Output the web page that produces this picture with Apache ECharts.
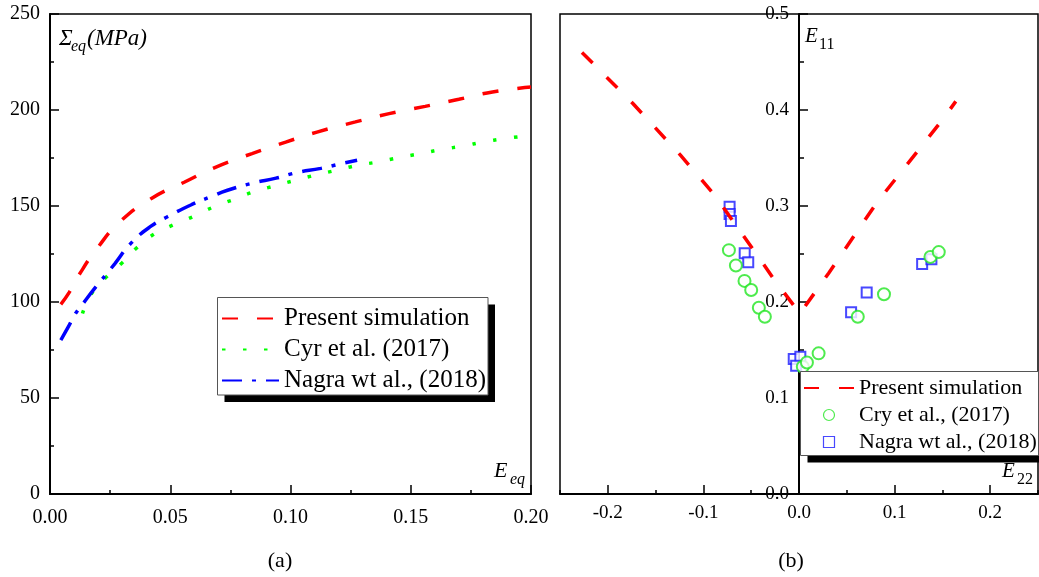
<!DOCTYPE html>
<html><head><meta charset="utf-8">
<script src="https://cdn.jsdelivr.net/npm/echarts@6/dist/echarts.min.js"></script>
<style>html,body{margin:0;padding:0;background:#fff}#c{width:1039px;height:577px}</style>
</head><body><div id="c"></div>
<script>
// ---------- Panel (a): equivalent stress vs equivalent strain ----------
const aSimX = [0.0045, 0.008, 0.012, 0.020, 0.029, 0.042, 0.056, 0.069, 0.084, 0.098, 0.111, 0.127, 0.141, 0.156, 0.170, 0.184, 0.200];
const aSimY = [98.8, 105, 114, 128.6, 141.7, 153.8, 162.5, 170.3, 177.3, 183.3, 188.5, 193.8, 198.1, 201.9, 205.6, 209.4, 212];
const aCyrX = [0.0135, 0.0177, 0.0234, 0.0299, 0.0364, 0.0436, 0.0515, 0.0601, 0.068, 0.0766, 0.0845, 0.0932, 0.102, 0.110, 0.119, 0.128, 0.136, 0.145, 0.154, 0.163, 0.172, 0.180, 0.189, 0.198];
const aCyrY = [94, 105.2, 113, 120.3, 128.6, 135.6, 140.3, 144.8, 149.5, 153.5, 157.3, 160.4, 163.4, 166, 168.6, 171.2, 172.9, 175.2, 177.3, 179.5, 181.3, 183.3, 185.1, 186.5];
const aNagraX = [0.0045, 0.0076, 0.0104, 0.014, 0.018, 0.027, 0.0335, 0.042, 0.049, 0.059, 0.0666, 0.0738, 0.0845, 0.094, 0.1025, 0.1126, 0.121, 0.1277];
const aNagraY = [80.2, 87, 93.6, 99.6, 106.2, 120, 130.4, 139.5, 144.5, 150.8, 154.7, 158.2, 162, 164.5, 167.4, 169.6, 172, 173.8];

// ---------- Panel (b): E11 vs E22 ----------
const bSimX = [-0.227, -0.174, -0.124, -0.088, -0.046, -0.025, 0.001, 0.031, 0.081, 0.151, 0.164];
const bSimY = [0.460, 0.407, 0.353, 0.311, 0.252, 0.222, 0.188, 0.230, 0.303, 0.391, 0.409];
const bCryX = [-0.0733, -0.066, -0.057, -0.050, -0.042, -0.0357, 0.004, 0.0083, 0.0205, 0.0615, 0.0889, 0.1375, 0.1462];
const bCryY = [0.254, 0.238, 0.222, 0.2125, 0.194, 0.1847, 0.1326, 0.137, 0.1465, 0.1847, 0.208, 0.247, 0.252];
const bNagraX = [-0.0726, -0.0726, -0.0712, -0.0568, -0.0531, -0.0055, 0.0014, -0.003, 0.0545, 0.0708, 0.1288, 0.1385];
const bNagraY = [0.2993, 0.2917, 0.2844, 0.2507, 0.2413, 0.1406, 0.143, 0.1337, 0.1893, 0.210, 0.2396, 0.2445];

// tick labels
const bXTicks = [-0.2, -0.1, 0.0, 0.1, 0.2];

// legend texts
const legendText = {
  aSim: 'Present simulation', aCyr: 'Cyr et al. (2017)', aNagra: 'Nagra wt al., (2018)',
  bSim: 'Present simulation', bCry: 'Cry et al., (2017)', bNagra: 'Nagra wt al., (2018)'
};

const zip = (xs, ys) => xs.map((x, i) => [x, ys[i]]);
const FONT = 'Liberation Serif';
const RED = '#ff0000', GREEN = '#00ff00', BLUE = '#0000ff', CIRC = '#22e622', SQ = '#1a1aff';

const tickLine = {color: '#000', width: 1.5};
function baseAxis(extra) {
  return Object.assign({
    type: 'value',
    axisLine: {show: true, onZero: false, lineStyle: {color: '#000', width: 2}},
    axisTick: {show: true, inside: true, length: 9, lineStyle: tickLine},
    minorTick: {show: true, splitNumber: 2, length: 4, lineStyle: tickLine},
    splitLine: {show: false},
    minorSplitLine: {show: false},
    axisLabel: {color: '#000', fontFamily: FONT, fontSize: 20}
  }, extra);
}

const chart = echarts.init(document.getElementById('c'), null, {renderer: 'canvas'});

const gridBase = {show: true, borderColor: '#000', borderWidth: 1.5, backgroundColor: 'transparent', containLabel: false};
const BW = 478; // width of grid (b)

function txt(text, x, y, size, italic, align) {
  return {
    type: 'text', x: x, y: y, z: 100,
    style: {
      text: text, fill: '#000', fontFamily: FONT, fontSize: size,
      fontStyle: italic ? 'italic' : 'normal',
      align: align || 'left', verticalAlign: 'middle'
    }
  };
}
// legend frame with hard black drop shadow
function legendFrame(x, y, w, h) {
  return [
    {type: 'rect', z: 4, shape: {x: x + 7, y: y + 7, width: w, height: h}, style: {fill: '#000'}},
    {type: 'rect', z: 5, shape: {x: x, y: y, width: w, height: h}, style: {fill: '#fff', stroke: '#555', lineWidth: 1}}
  ];
}

const legendCommon = {
  orient: 'vertical', selectedMode: false, z: 8,
  backgroundColor: 'transparent', borderWidth: 0,
  formatter: n => legendText[n]
};

const option = {
  backgroundColor: '#fff',
  animation: false,
  grid: [
    Object.assign({left: 50, top: 14, width: 481, height: 480}, gridBase),
    Object.assign({left: 560, top: 14, width: BW, height: 480}, gridBase)
  ],
  xAxis: [
    baseAxis({
      gridIndex: 0, min: 0, max: 0.2, interval: 0.05,
      axisLabel: {color: '#000', fontFamily: FONT, fontSize: 20, margin: 14, formatter: v => v.toFixed(2)}
    }),
    baseAxis({
      gridIndex: 1, min: -0.25, max: 0.25, interval: 0.05, position: 'bottom',
      axisTick: {show: true, inside: true, length: 4, lineStyle: tickLine},
      minorTick: {show: false},
      axisLabel: {show: false}
    }),
    baseAxis({
      gridIndex: 1, min: -0.25, max: 0.25, interval: 0.05, position: 'bottom',
      axisLine: {show: false, onZero: false},
      axisTick: {show: true, inside: true, length: 9, lineStyle: tickLine, customValues: bXTicks},
      minorTick: {show: false},
      axisLabel: {color: '#000', fontFamily: FONT, fontSize: 19, margin: 10, customValues: bXTicks, formatter: v => v.toFixed(1)}
    })
  ],
  yAxis: [
    baseAxis({
      gridIndex: 0, min: 0, max: 250, interval: 50,
      axisLabel: {color: '#000', fontFamily: FONT, fontSize: 20, margin: 10}
    }),
    baseAxis({
      gridIndex: 1, min: 0, max: 0.5, interval: 0.1, position: 'left',
      offset: -BW / 2,
      axisLine: {show: true, onZero: false, lineStyle: {color: '#000', width: 2}},
      minorTick: {show: true, splitNumber: 2, length: 5, lineStyle: tickLine},
      axisLabel: {color: '#000', fontFamily: FONT, fontSize: 19, margin: 10, formatter: v => v.toFixed(1)}
    })
  ],
  legend: [
    Object.assign({
      data: ['aSim', 'aCyr', 'aNagra'],
      left: 217, top: 298,
      itemWidth: 57, itemHeight: 14, itemGap: 6, padding: [8, 4, 3, 4],
      itemStyle: {opacity: 0},
      textStyle: {color: '#000', fontFamily: FONT, fontSize: 25, lineHeight: 24}
    }, legendCommon),
    Object.assign({
      data: [
        {name: 'bSim', itemStyle: {opacity: 0}},
        {name: 'bCry', icon: 'circle', itemStyle: {color: '#fff', borderColor: CIRC, borderWidth: 1.2}},
        {name: 'bNagra', icon: 'path://M0,0L10,0L10,10L0,10Z', itemStyle: {color: '#fff', borderColor: SQ, borderWidth: 1.2}}
      ],
      left: 800, top: 372,
      itemWidth: 50, itemHeight: 11, itemGap: 5, padding: [5, 3, 2, 3],
      symbolKeepAspect: true,
      textStyle: {color: '#000', fontFamily: FONT, fontSize: 22, lineHeight: 21}
    }, legendCommon)
  ],
  series: [
    {
      name: 'aSim', type: 'line', xAxisIndex: 0, yAxisIndex: 0, data: zip(aSimX, aSimY),
      symbol: 'none', smooth: true, color: RED,
      lineStyle: {color: RED, width: 3.5, type: [16, 19]}
    },
    {
      name: 'aCyr', type: 'line', xAxisIndex: 0, yAxisIndex: 0, data: zip(aCyrX, aCyrY),
      symbol: 'none', smooth: true, color: GREEN,
      lineStyle: {color: GREEN, width: 3.5, type: [3.5, 17.5]}
    },
    {
      name: 'aNagra', type: 'line', xAxisIndex: 0, yAxisIndex: 0, data: zip(aNagraX, aNagraY),
      symbol: 'none', smooth: true, color: BLUE,
      lineStyle: {color: BLUE, width: 3.5, type: [20, 10, 4, 10]}
    },
    {
      name: 'bSim', type: 'line', xAxisIndex: 1, yAxisIndex: 1, data: zip(bSimX, bSimY),
      symbol: 'none', smooth: false, color: RED,
      lineStyle: {color: RED, width: 3.5, type: [15, 20]}
    },
    {
      name: 'bNagra', type: 'scatter', xAxisIndex: 1, yAxisIndex: 1, data: zip(bNagraX, bNagraY),
      symbol: 'emptyRect', symbolSize: 10, color: SQ,
      itemStyle: {color: SQ, borderWidth: 1.2}
    },
    {
      name: 'bCry', type: 'scatter', xAxisIndex: 1, yAxisIndex: 1, data: zip(bCryX, bCryY),
      symbol: 'emptyCircle', symbolSize: 12, color: CIRC,
      itemStyle: {color: CIRC, borderWidth: 1.2}
    }
  ],
  graphic: {
    elements: [].concat(
      legendFrame(217.5, 297.5, 270.5, 97.5),
      legendFrame(800.5, 371.5, 238, 84),
      [
        txt('Σ', 59, 39, 23, true),
        txt('eq', 71, 46.5, 16, true),
        txt('(MPa)', 87, 39, 23, true),
        txt('E', 494, 471.5, 22, true),
        txt('eq', 510, 479.5, 16, true),
        txt('E', 805, 36, 21, true),
        txt('11', 819, 44.5, 16, false),
        txt('E', 1002, 471, 21, true),
        txt('22', 1017, 479.5, 16, false),
        txt('(a)', 280, 561, 22, false, 'center'),
        txt('(b)', 791, 561, 22, false, 'center')
      ]
    )
  }
};
chart.setOption(option);
</script>
</body></html>
